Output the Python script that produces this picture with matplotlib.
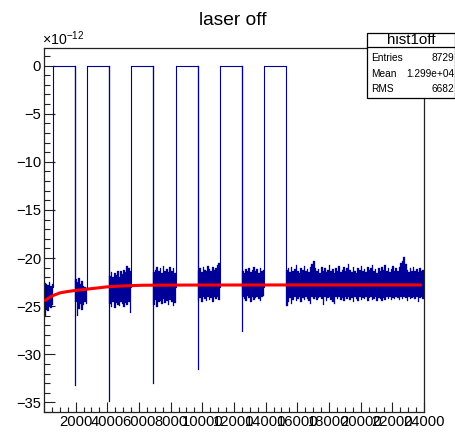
import numpy as np
import matplotlib
matplotlib.use("Agg")
import matplotlib.pyplot as plt
from matplotlib.patches import Rectangle
from matplotlib.lines import Line2D
from matplotlib.ticker import MultipleLocator, FuncFormatter

plt.rcParams['font.family'] = ['Liberation Sans', 'DejaVu Sans']
plt.rcParams['mathtext.fontset'] = 'custom'
plt.rcParams['mathtext.rm'] = 'Liberation Sans'
plt.rcParams['mathtext.it'] = 'Liberation Sans:italic'

# ---- data (y in units of 1e-12) ----
title = "laser off"
hist_name = "hist1off"
stats = [("Entries", "8729"), ("Mean", "1.299e+04"), ("RMS", "6682")]

# intervals where the histogram sits at zero
zero_start = [590, 2740, 5500, 8320, 11120, 13920]
zero_end = [1980, 4130, 6900, 9710, 12510, 15290]

# noisy segments: [start, end]
seg_start = [0, 1980, 4130, 6900, 9710, 12510, 15290]
seg_end = [590, 2740, 5500, 8320, 11120, 13920, 24000]

# first-bin dips at the start of segments 2..6
spike_x = [1980, 4130, 6900, 9710, 12510]
spike_y = [-33.2, -34.9, -33.0, -31.5, -27.6]

# per-column envelopes of the noise (top / bottom)
seg1_hi = [-22.6, -22.7, -22.8, -22.5, -22.9, -22.7]
seg1_lo = [-26.0, -25.4, -25.5, -25.0, -25.2, -24.9]
seg2_hi = [-22.2, -22.5, -22.1, -22.7, -22.4, -22.9, -23.0, -23.1]
seg2_lo = [-24.6, -26.0, -25.3, -24.8, -25.4, -24.9, -24.6, -24.8]
seg3_hi = [-21.9, -21.5, -22.0, -21.6, -21.8, -21.3, -22.0, -21.4, -21.7, -21.2,
           -21.5, -20.8, -21.0, -21.3]
seg3_lo = [-24.8, -25.1, -24.6, -25.2, -24.7, -24.9, -25.0, -24.6, -24.8, -25.1,
           -24.7, -24.9, -24.6, -25.7]
seg4_hi = [-21.5, -21.2, -20.9, -21.4, -21.0, -21.6, -20.8, -21.3, -21.1, -21.5,
           -20.9, -21.3, -21.0, -21.6]
seg4_lo = [-24.9, -24.4, -25.1, -24.6, -24.5, -24.8, -24.3, -24.7, -24.5, -24.9,
           -24.4, -24.6, -25.0, -24.7]
seg5_hi = [-21.3, -21.0, -21.5, -20.9, -21.2, -21.4, -20.8, -21.1, -21.3, -20.9,
           -21.2, -21.0, -20.7, -20.5]
seg5_lo = [-24.5, -24.2, -24.6, -24.0, -24.3, -24.5, -24.1, -24.4, -24.2, -24.6,
           -24.0, -24.3, -24.1, -24.4]
seg6_hi = [-21.3, -21.6, -21.1, -21.4, -21.0, -21.5, -21.2, -20.9, -21.4, -21.1,
           -21.6, -21.0, -21.3, -21.2]
seg6_lo = [-24.0, -24.3, -24.5, -23.9, -24.2, -24.6, -24.1, -24.4, -24.2, -24.0,
           -24.3, -24.5, -24.1, -23.9]
seg7_hi = [-21.2, -21.0, -21.5, -20.9, -21.4, -21.1, -20.7, -21.3, -21.6, -21.0,
           -21.2, -20.8, -21.4, -21.1, -21.5, -20.9, -20.6, -20.3, -21.0, -21.4,
           -21.1, -21.6, -20.9, -21.3, -21.0, -21.5, -21.2, -20.7, -21.4, -21.1,
           -21.6, -21.0, -21.3, -20.8, -21.5, -21.2, -20.9, -21.4, -21.0, -20.6,
           -21.2, -21.5, -20.9, -21.3, -21.6, -21.0, -21.2, -20.8, -21.4, -21.1,
           -21.5, -20.9, -21.2, -21.0, -20.7, -21.4, -21.1, -21.6, -21.0, -21.3,
           -20.9, -21.2, -20.7, -21.4, -21.0, -21.5, -21.1, -20.8, -21.3, -21.0,
           -21.4, -20.9, -20.5, -20.3, -19.9, -20.6, -21.2, -21.5, -21.0, -21.3,
           -20.9, -21.4, -21.1, -21.5, -21.0, -21.3, -21.2]
seg7_lo = [-25.0, -24.6, -24.2, -24.8, -24.4, -24.0, -24.5, -24.3, -24.1, -24.6,
           -24.2, -24.4, -24.0, -24.3, -24.5, -24.8, -24.1, -24.3, -24.0, -24.4,
           -24.2, -24.0, -24.3, -24.9, -24.1, -24.5, -24.2, -24.0, -24.4, -24.6,
           -24.8, -24.1, -24.3, -24.0, -24.4, -24.2, -24.5, -24.1, -24.3, -24.0,
           -24.4, -24.2, -24.6, -24.1, -24.3, -24.5, -24.0, -24.4, -24.2, -24.3,
           -24.1, -24.5, -24.2, -24.0, -24.4, -24.3, -24.1, -24.5, -24.2, -24.3,
           -24.5, -24.2, -24.4, -24.0, -24.3, -24.1, -24.4, -24.2, -24.3, -24.0,
           -24.2, -24.4, -24.1, -24.3, -24.0, -24.2, -24.5, -24.1, -24.3, -24.2,
           -24.0, -24.3, -24.1, -24.6, -24.2, -24.0, -24.3]
seg_hi = [seg1_hi, seg2_hi, seg3_hi, seg4_hi, seg5_hi, seg6_hi, seg7_hi]
seg_lo = [seg1_lo, seg2_lo, seg3_lo, seg4_lo, seg5_lo, seg6_lo, seg7_lo]

# fitted curve
fit_x = [0, 170, 500, 1010, 1500, 1850, 2400, 2905, 3450, 3960, 4990, 6250, 9000, 15000, 23860]
fit_y = [-24.45, -24.3, -23.95, -23.62, -23.48, -23.4, -23.3, -23.2, -23.1, -23.0,
         -22.9, -22.83, -22.81, -22.8, -22.8]

# ---- figure ----
W, H = 456, 432
fig = plt.figure(figsize=(W / 100, H / 100), dpi=100)
ax = fig.add_axes([44 / W, 1 - 412 / H, 380 / W, (412 - 47.7) / H])
ax.set_xlim(0, 24000)
ax.set_ylim(-36.0, 1.85)

navy = '#000099'

# zero plateaus and their edges
for s, e in zip(zero_start, zero_end):
    ax.plot([s, e], [0, 0], color=navy, lw=0.8, solid_capstyle='butt')
    ax.plot([s, s], [0, -23.0], color=navy, lw=0.8)
    ax.plot([e, e], [0, -23.0], color=navy, lw=0.8)

# dips at segment starts
for x, y in zip(spike_x, spike_y):
    ax.plot([x, x], [0, y], color=navy, lw=0.9)

# noise columns
for a, b, hi, lo in zip(seg_start, seg_end, seg_hi, seg_lo):
    n = len(hi)
    edges = np.linspace(a, b, n + 1)
    centers = 0.5 * (edges[:-1] + edges[1:])
    hi = np.asarray(hi)
    lo = np.asarray(lo)
    ax.bar(centers, hi - lo, bottom=lo, width=(b - a) / n, color=navy,
           edgecolor=navy, linewidth=0.2, zorder=2)

# fit
ax.plot(fit_x, fit_y, color='#ff0000', lw=2.2, zorder=3, solid_capstyle='butt')

# axes styling
for side in ['left', 'bottom', 'right', 'top']:
    ax.spines[side].set_linewidth(0.9)
    ax.spines[side].set_color('#222222')
ax.xaxis.set_major_locator(MultipleLocator(2000))
ax.xaxis.set_minor_locator(MultipleLocator(500))
ax.yaxis.set_major_locator(MultipleLocator(5))
ax.yaxis.set_minor_locator(MultipleLocator(1))
ax.xaxis.set_major_formatter(FuncFormatter(lambda v, p: '' if v <= 0 else f'{int(v)}'))
ax.yaxis.set_major_formatter(FuncFormatter(lambda v, p: f'{int(round(v))}'.replace('-', '\u2212')))
ax.tick_params(axis='both', which='both', direction='in', top=False, right=False,
               labelsize=10.6, width=0.8, color='#222222')
ax.tick_params(axis='y', which='major', length=8, pad=2)
ax.tick_params(axis='y', which='minor', length=4)
ax.tick_params(axis='x', which='major', length=7, pad=2.5)
ax.tick_params(axis='x', which='minor', length=3.5)

# title and exponent label
fig.text(233 / W, 1 - 25 / H, title, ha='center', va='baseline', fontsize=13.8)
fig.text(42 / W, 1 - 45 / H, r'$\times10^{-12}$', ha='left', va='baseline', fontsize=10.2)

# stats box
bx0, bx1, by0, by1 = 366.7, 455.0, 33.3, 98.3
fig.patches.append(Rectangle((bx0 / W, 1 - by1 / H), (bx1 - bx0) / W, (by1 - by0) / H,
                             transform=fig.transFigure, facecolor='white',
                             edgecolor='black', linewidth=0.9, zorder=5))
fig.lines.append(Line2D([bx0 / W, bx1 / W], [1 - 46.7 / H, 1 - 46.7 / H],
                        transform=fig.transFigure, color='black', linewidth=0.9, zorder=6))
fig.text((bx0 + bx1) / 2 / W, 1 - 44.5 / H, hist_name, ha='center', va='baseline',
         fontsize=10.8, zorder=7)
row_base = [60.6, 76.6, 91.6]
for (k, v), yb in zip(stats, row_base):
    fig.text(371.5 / W, 1 - yb / H, k, ha='left', va='baseline', fontsize=7.3, zorder=7)
    fig.text(454 / W, 1 - yb / H, v, ha='right', va='baseline', fontsize=7.3, zorder=7)

fig.savefig('out.png', dpi=100)
